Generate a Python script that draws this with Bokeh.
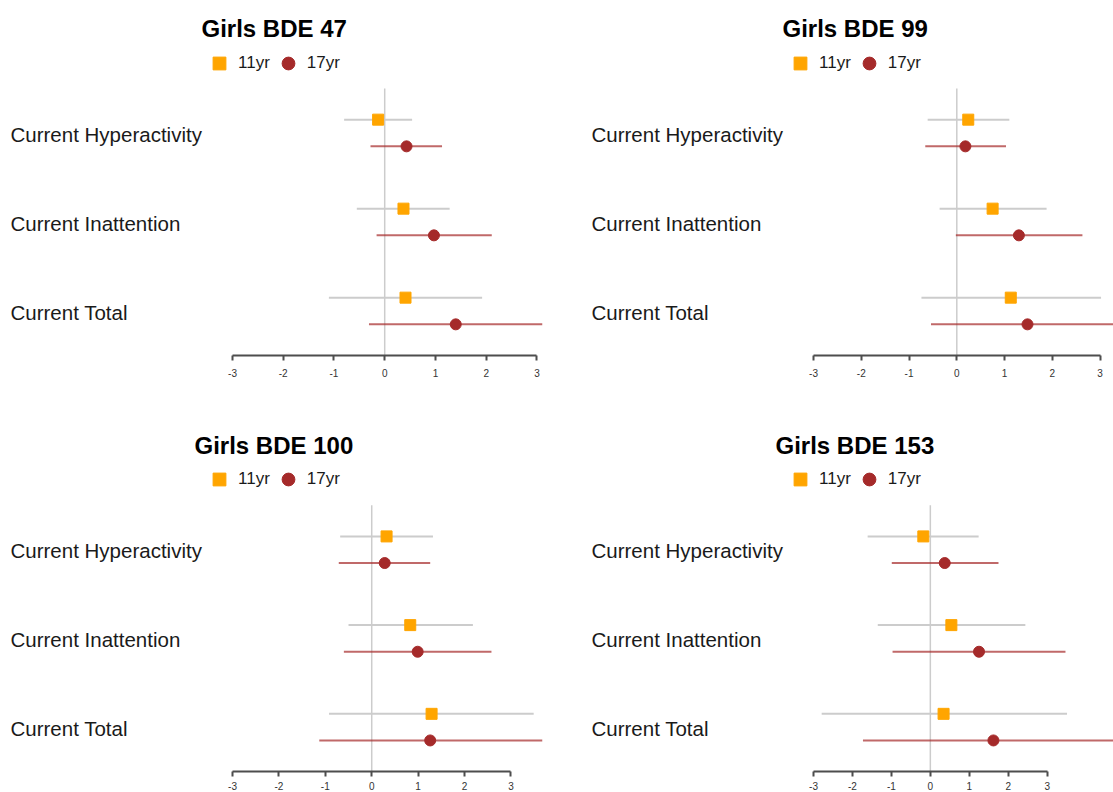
from bokeh.plotting import figure
from bokeh.layouts import column, row
from bokeh.models import (ColumnDataSource, Legend, LegendItem, FixedTicker, Range1d)
from bokeh.core.properties import value
from bokeh.embed import file_html
from bokeh.resources import INLINE

# ---------------- data ----------------
CATEGORIES = ["Current Hyperactivity", "Current Inattention", "Current Total"]
SERIES = ["11yr", "17yr"]
TITLES = ["Girls BDE 47", "Girls BDE 99", "Girls BDE 100", "Girls BDE 153"]
TICKS = [-3, -2, -1, 0, 1, 2, 3]
TICK_LABELS = ["-3", "-2", "-1", "0", "1", "2", "3"]

BDE47_11_EST = [-0.13, 0.37, 0.41]
BDE47_11_LO = [-0.80, -0.55, -1.10]
BDE47_11_HI = [0.54, 1.28, 1.92]
BDE47_17_EST = [0.43, 0.97, 1.40]
BDE47_17_LO = [-0.28, -0.16, -0.31]
BDE47_17_HI = [1.13, 2.11, 3.11]

BDE99_11_EST = [0.24, 0.75, 1.13]
BDE99_11_LO = [-0.61, -0.36, -0.74]
BDE99_11_HI = [1.10, 1.88, 3.02]
BDE99_17_EST = [0.18, 1.30, 1.48]
BDE99_17_LO = [-0.66, -0.02, -0.54]
BDE99_17_HI = [1.03, 2.63, 3.49]

BDE100_11_EST = [0.32, 0.83, 1.29]
BDE100_11_LO = [-0.68, -0.50, -0.92]
BDE100_11_HI = [1.32, 2.18, 3.49]
BDE100_17_EST = [0.28, 0.99, 1.26]
BDE100_17_LO = [-0.71, -0.60, -1.13]
BDE100_17_HI = [1.26, 2.58, 3.68]

BDE153_11_EST = [-0.18, 0.54, 0.34]
BDE153_11_LO = [-1.61, -1.35, -2.79]
BDE153_11_HI = [1.24, 2.44, 3.51]
BDE153_17_EST = [0.37, 1.25, 1.62]
BDE153_17_LO = [-0.99, -0.97, -1.73]
BDE153_17_HI = [1.75, 3.47, 4.96]

PANELS = [
    (BDE47_11_EST, BDE47_11_LO, BDE47_11_HI, BDE47_17_EST, BDE47_17_LO, BDE47_17_HI),
    (BDE99_11_EST, BDE99_11_LO, BDE99_11_HI, BDE99_17_EST, BDE99_17_LO, BDE99_17_HI),
    (BDE100_11_EST, BDE100_11_LO, BDE100_11_HI, BDE100_17_EST, BDE100_17_LO, BDE100_17_HI),
    (BDE153_11_EST, BDE153_11_LO, BDE153_11_HI, BDE153_17_EST, BDE153_17_LO, BDE153_17_HI),
]

# ---------------- style / layout ----------------
FONT = "Liberation Sans"
ORANGE = "#FFA500"
BROWN = "#A52A2A"
GRAY_LINE = "#cccccc"

LEFT_W = 589      # figure width, left column (8 + frame 534 + 47 gap)
LEFT_PAD = 8
RIGHT_W = 524     # figure width, right column (truncated by window)
FRAME_FULL = 534  # nominal plot-area width
NEG3_PX = 224     # pixel offset of -3 from frame left
SPAN_PX = 310     # pixels from -3 to data max
TOP_H = 417
BOT_H = 375
TOP_BORDER = 44   # space for the title
LEGEND_BAND = 44  # pixels above the data area holding the legend
TITLE_OFFSETS = [193, 193, 186, 186]
DODGE = 0.15


def make_panel(idx, width, height, left_pad, frame_w, bottom_border, standoff):
    e11, l11, h11, e17, l17, h17 = PANELS[idx]
    n = len(CATEGORIES)
    xmax = max(max(h11), max(h17))
    scale = SPAN_PX / (xmax + 3.0)
    start = -3.0 - NEG3_PX / scale
    end = start + frame_w / scale

    frame_h = height - TOP_BORDER - bottom_border
    data_h = frame_h - LEGEND_BAND
    y_top = n + n * LEGEND_BAND / data_h

    p = figure(width=width, height=height, output_backend="svg", toolbar_location=None,
               x_range=Range1d(start, end), y_range=Range1d(0, y_top),
               y_axis_location=None, min_border=0,
               min_border_top=TOP_BORDER, min_border_bottom=bottom_border,
               min_border_left=left_pad,
               min_border_right=width - frame_w - left_pad)
    p.outline_line_color = None
    p.grid.visible = False
    p.background_fill_color = "white"
    p.border_fill_color = "white"

    p.title.text = TITLES[idx]
    p.title.text_font = FONT
    p.title.text_font_size = "24px"
    p.title.text_font_style = "bold"
    p.title.text_color = "#000000"
    p.title.align = "left"
    p.title.offset = TITLE_OFFSETS[idx]
    p.title.standoff = 5

    # category centres (top category first)
    yc = [n - 1 - i + 0.5 for i in range(n)]
    y11 = [y + DODGE for y in yc]
    y17 = [y - DODGE for y in yc]

    # zero reference line over the data area
    p.segment(x0=0, y0=0, x1=0, y1=n, line_color=GRAY_LINE, line_width=1.5)

    src11 = ColumnDataSource(dict(y=y11, est=e11, lo=l11, hi=h11))
    src17 = ColumnDataSource(dict(y=y17, est=e17, lo=l17, hi=h17))

    p.segment(x0="lo", x1="hi", y0="y", y1="y", source=src11,
              line_color=GRAY_LINE, line_width=2)
    p.segment(x0="lo", x1="hi", y0="y", y1="y", source=src17,
              line_color=BROWN, line_alpha=0.7, line_width=2)
    r11 = p.scatter(x="est", y="y", source=src11, marker="square", size=11,
                    fill_color=ORANGE, line_color=ORANGE)
    r17 = p.scatter(x="est", y="y", source=src17, marker="circle", size=11,
                    fill_color=BROWN, line_color=BROWN)

    lab_src = ColumnDataSource(dict(x=[start] * n, y=yc, t=CATEGORIES))
    p.text(x="x", y="y", text="t", source=lab_src, text_font=value(FONT),
           text_font_size="20.5px", text_color="#1a1a1a", text_align="left",
           text_baseline="alphabetic", x_offset=2, y_offset=1)

    legend = Legend(items=[LegendItem(label=SERIES[0], renderers=[r11]),
                           LegendItem(label=SERIES[1], renderers=[r17])],
                    orientation="horizontal", location=(195, frame_h - 34.5),
                    margin=0, padding=0, spacing=2, label_standoff=3,
                    glyph_width=32, glyph_height=32, label_text_font=FONT,
                    label_text_font_size="17px", label_text_color="#1a1a1a",
                    border_line_color=None, background_fill_alpha=0)
    p.add_layout(legend)

    ax = p.xaxis[0]
    ax.bounds = (-3, 3)
    ax.ticker = FixedTicker(ticks=TICKS)
    ax.major_label_overrides = {t: s for t, s in zip(TICKS, TICK_LABELS)}
    ax.axis_line_color = "#4d4d4d"
    ax.axis_line_width = 2
    ax.major_tick_line_color = "#4d4d4d"
    ax.major_tick_line_width = 2
    ax.major_tick_in = 0
    ax.major_tick_out = 5
    ax.minor_tick_line_color = None
    ax.major_label_text_font = FONT
    ax.major_label_text_font_size = "10px"
    ax.major_label_text_color = "#333333"
    ax.major_label_standoff = standoff
    return p


p1 = make_panel(0, LEFT_W, TOP_H, LEFT_PAD, FRAME_FULL, 62, 8)
p2 = make_panel(1, RIGHT_W, TOP_H, 0, RIGHT_W, 62, 8)
p3 = make_panel(2, LEFT_W, BOT_H, LEFT_PAD, FRAME_FULL, 20, 5)
p4 = make_panel(3, RIGHT_W, BOT_H, 0, RIGHT_W, 20, 5)

layout = column(row(p1, p2, spacing=0), row(p3, p4, spacing=0), spacing=0)
open("out.html", "w").write(file_html(layout, INLINE))
